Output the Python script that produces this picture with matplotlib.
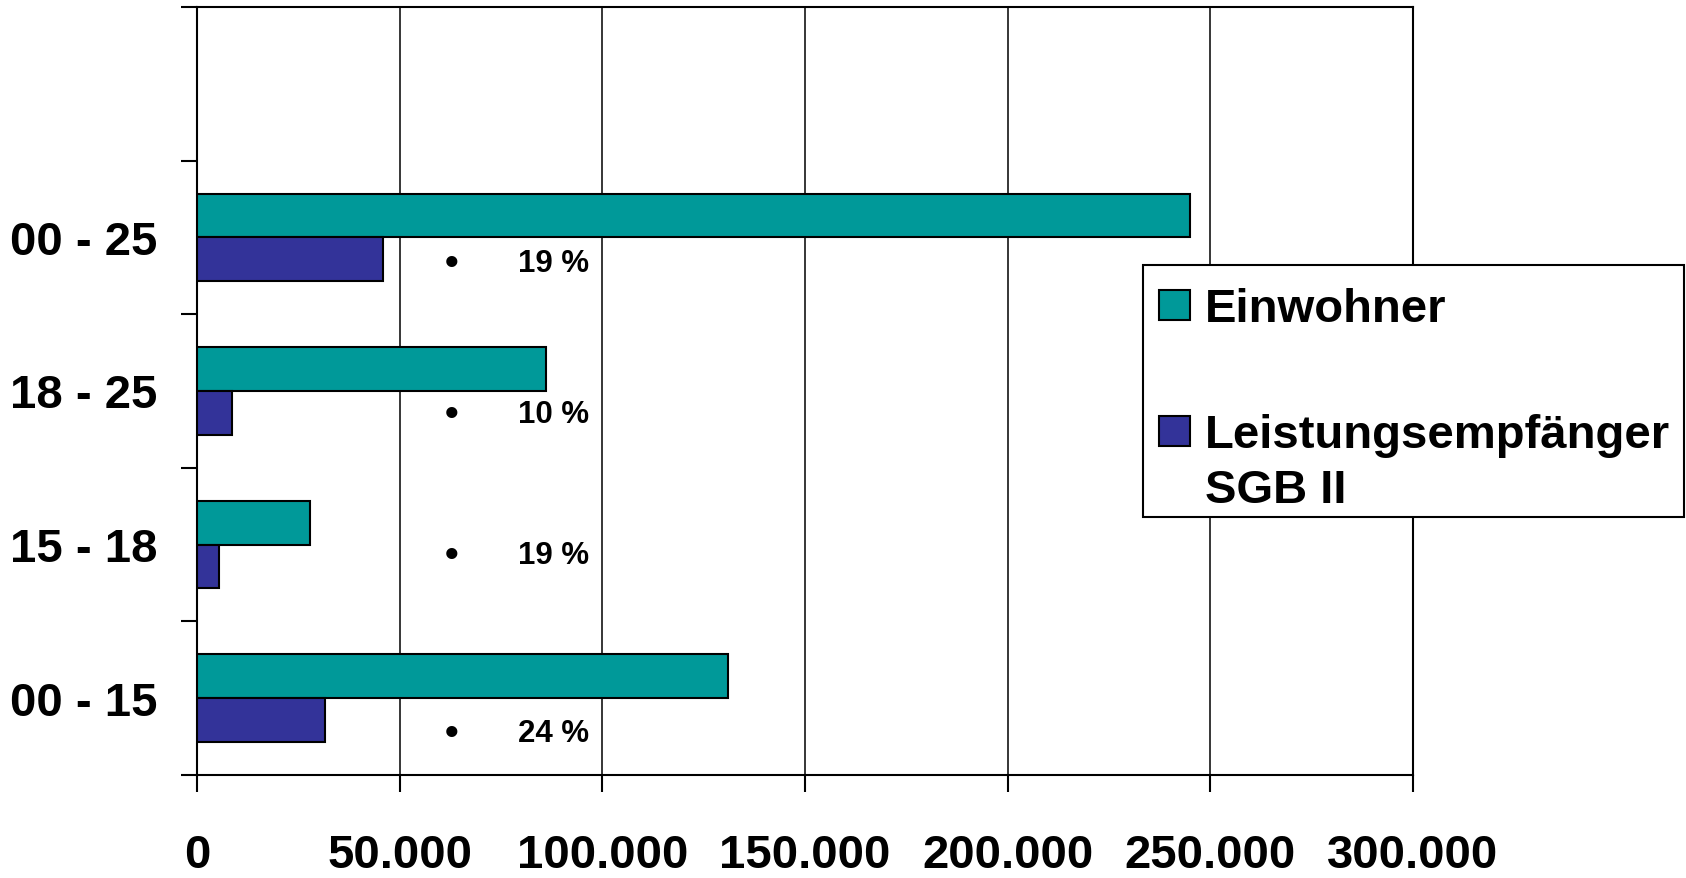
import matplotlib
matplotlib.use("Agg")
import matplotlib.pyplot as plt
from matplotlib.patches import Rectangle
import numpy as np

plt.rcParams['font.family'] = ['Liberation Sans', 'DejaVu Sans']
plt.rcParams['font.weight'] = 'bold'

# ---- data (bottom to top) ----
categories = ["00 - 15", "15 - 18", "18 - 25", "00 - 25"]
einwohner = [131000, 28000, 86000, 245000]
leistungsempfaenger = [31500, 5400, 8700, 46000]
pct_labels = ["24 %", "19 %", "10 %", "19 %"]
x_ticks = [0, 50000, 100000, 150000, 200000, 250000, 300000]
series_names = ["Einwohner", "Leistungsempfänger", "SGB II"]

# ---- layout ----
W, H = 1686, 878
TEAL = "#009999"
BLUE = "#333399"
pct_label_y = [-0.23, 0.93, 1.845, 2.83]
bullet_x = 62900
pct_x = 79200

fig = plt.figure(figsize=(16.86, 8.785), dpi=100)
ax = fig.add_axes([197 / W, 1 - 775 / H, (1413 - 197) / W, (775 - 7.5) / H])

y = np.arange(len(categories))
h = 0.285
ax.barh(y + h / 2, einwohner, height=h, color=TEAL, edgecolor="black",
        linewidth=1.5, zorder=3)
ax.barh(y - h / 2, leistungsempfaenger, height=h, color=BLUE,
        edgecolor="black", linewidth=1.5, zorder=3)

ax.set_xlim(0, 300000)
ax.set_ylim(-0.5, len(categories) + 0.5)

ax.set_xticks(x_ticks)
ax.set_xticklabels([f"{v:,}".replace(",", ".") for v in x_ticks])
ax.xaxis.grid(True, color="black", linewidth=1.1, zorder=0)
ax.set_axisbelow(True)
ax.tick_params(axis="x", direction="out", length=12, width=1.5,
               labelsize=34, pad=30)

ax.set_yticks(np.arange(-0.5, len(categories) + 0.6, 1.0))
ax.set_yticklabels([])
ax.set_yticks(y, minor=True)
ax.set_yticklabels(categories, minor=True)
ax.tick_params(axis="y", which="major", direction="out", length=11.5,
               width=1.5)
ax.tick_params(axis="y", which="minor", length=0, labelsize=34, pad=28.5)

for s in ax.spines.values():
    s.set_linewidth(1.5)
    s.set_color("black")

for yy, lab in zip(pct_label_y, pct_labels):
    ax.text(bullet_x, yy, "•", ha="center", va="center", fontsize=28,
            fontweight="bold", zorder=4)
    ax.text(pct_x, yy, lab, ha="left", va="center", fontsize=22.5,
            fontweight="bold", zorder=4)

# ---- legend (drawn in figure pixel space) ----
def fx(px):
    return px / W

def fy(py):
    return 1 - py / H

fig.add_artist(Rectangle((fx(1143), fy(517)), (1684 - 1143) / W,
                         (517 - 265) / H, transform=fig.transFigure,
                         facecolor="white", edgecolor="black",
                         linewidth=1.5, zorder=5))
fig.add_artist(Rectangle((fx(1159), fy(320)), 31 / W, 30 / H,
                         transform=fig.transFigure, facecolor=TEAL,
                         edgecolor="black", linewidth=1.5, zorder=6))
fig.add_artist(Rectangle((fx(1159), fy(446)), 31 / W, 30 / H,
                         transform=fig.transFigure, facecolor=BLUE,
                         edgecolor="black", linewidth=1.5, zorder=6))
fig.text(fx(1205), fy(322), series_names[0], ha="left", va="baseline",
         fontsize=34, fontweight="bold", zorder=7)
fig.text(fx(1205), fy(448), series_names[1], ha="left", va="baseline",
         fontsize=34, fontweight="bold", zorder=7)
fig.text(fx(1205), fy(503), series_names[2], ha="left", va="baseline",
         fontsize=34, fontweight="bold", zorder=7)

fig.savefig("out.png", dpi=100)
